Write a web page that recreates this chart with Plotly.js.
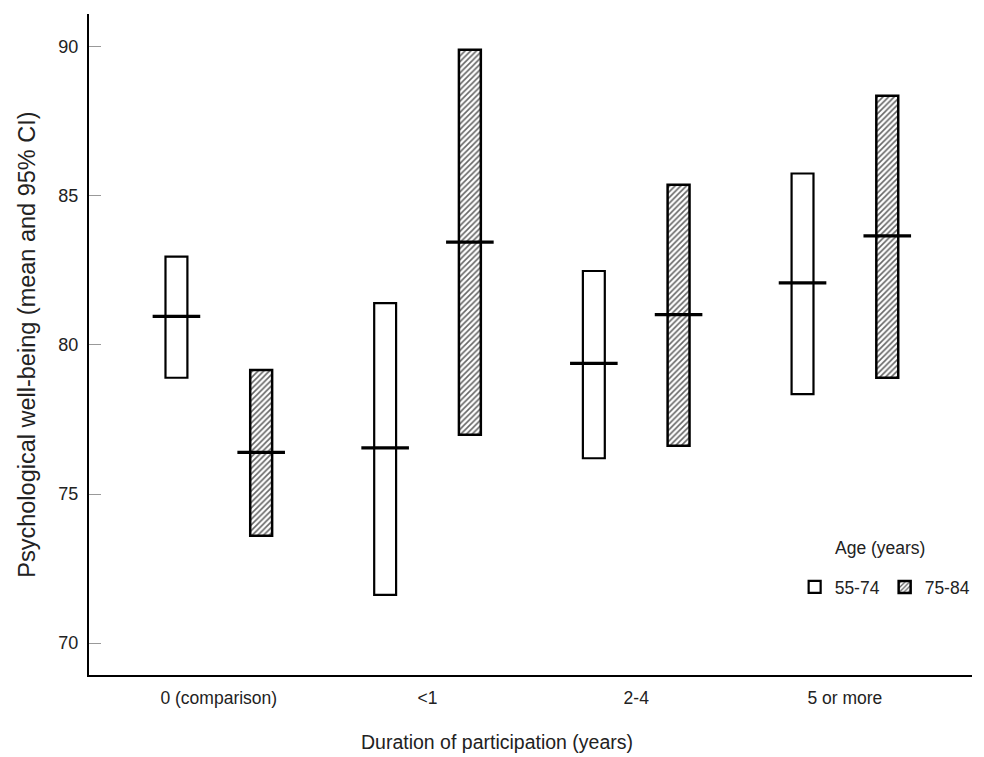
<!DOCTYPE html>
<html>
<head>
<meta charset="utf-8">
<script src="https://cdn.plot.ly/plotly-3.0.1.min.js"></script>
<style>html,body{margin:0;padding:0;background:#fff;}#chart{width:984px;height:757px;}</style>
</head>
<body>
<div id="chart"></div>
<script>
const categories = ['0 (comparison)', '<1', '2-4', '5 or more'];
const seriesNames = ['55-74', '75-84'];
const legendTitle = 'Age (years)';
const lo5574 = [78.9, 71.62, 76.2, 78.35];
const hi5574 = [82.96, 81.4, 82.48, 85.75];
const mean5574 = [80.96, 76.55, 79.38, 82.08];
const lo7584 = [73.6, 76.99, 76.62, 78.9];
const hi7584 = [79.16, 89.9, 85.37, 88.36];
const mean7584 = [76.4, 83.45, 81.02, 83.66];
const yTicks = [70, 75, 80, 85, 90];

const idx = categories.map((c, i) => i);
const sep = 0.203, bw = 0.105;
const font = 'Liberation Sans, Arial, sans-serif';

const traces = [
  {
    type: 'bar', name: seriesNames[0], x: idx,
    base: lo5574, y: hi5574.map((h, i) => h - lo5574[i]),
    width: bw, offset: -sep - bw / 2,
    marker: {color: '#ffffff', line: {color: '#000', width: 2.2}},
    hoverinfo: 'skip'
  },
  {
    type: 'bar', name: seriesNames[1], x: idx,
    base: lo7584, y: hi7584.map((h, i) => h - lo7584[i]),
    width: bw, offset: sep - bw / 2,
    marker: {color: '#ffffff', line: {color: '#000', width: 2.5},
      pattern: {shape: '/', bgcolor: '#ffffff', fgcolor: '#666', size: 4, solidity: 0.4}},
    hoverinfo: 'skip'
  },
  {
    type: 'scatter', mode: 'markers', showlegend: false,
    x: idx.map(i => i - sep), y: mean5574,
    marker: {symbol: 'line-ew', size: 34, line: {color: '#000', width: 3.3}}
  },
  {
    type: 'scatter', mode: 'markers', showlegend: false,
    x: idx.map(i => i + sep), y: mean7584,
    marker: {symbol: 'line-ew', size: 34, line: {color: '#000', width: 3.3}}
  }
];

const layout = {
  width: 984, height: 757,
  margin: {l: 89, r: 9, t: 14, b: 82},
  paper_bgcolor: '#fff', plot_bgcolor: '#fff',
  font: {family: font, color: '#222', size: 17},
  barmode: 'overlay',
  xaxis: {
    range: [-0.622, 3.609], tickvals: idx, ticktext: categories,
    showline: true, linecolor: '#000', linewidth: 2, ticks: '',
    showgrid: false, zeroline: false, tickfont: {size: 17.5, color: '#222'},
    ticklabelstandoff: 6
  },
  yaxis: {
    range: [68.93, 91.1], tickvals: yTicks,
    showline: true, linecolor: '#000', linewidth: 2,
    ticks: 'inside', ticklen: 12, tickcolor: '#999', tickwidth: 1,
    showgrid: false, zeroline: false, tickfont: {size: 18, color: '#222'},
    ticklabelstandoff: 5
  },
  legend: {
    orientation: 'h', x: 1.003, xanchor: 'right', y: 0.1331, yanchor: 'middle',
    bgcolor: 'rgba(0,0,0,0)', font: {size: 17.5, color: '#222'},
    entrywidth: 45, entrywidthmode: 'pixels',
    itemclick: false
  },
  annotations: [
    {text: 'Psychological well-being (mean and 95% CI)', xref: 'paper', yref: 'paper',
     x: -0.0711, y: 0.5, xanchor: 'center', yanchor: 'middle', textangle: -90,
     showarrow: false, font: {size: 23.5, color: '#222'}},
    {text: 'Duration of participation (years)', xref: 'paper', yref: 'paper',
     x: 0.4616, y: -0.1014, xanchor: 'center', yanchor: 'middle',
     showarrow: false, font: {size: 19.5, color: '#222'}},
    {text: legendTitle, xref: 'paper', yref: 'paper',
     x: (883 - 89) / 886, y: (675 - 548) / 661, xanchor: 'center', yanchor: 'middle',
     showarrow: false, font: {size: 17.5, color: '#222'}}
  ],
  showlegend: true
};

Plotly.newPlot('chart', traces, layout, {displayModeBar: false, staticPlot: true});
</script>
</body>
</html>
